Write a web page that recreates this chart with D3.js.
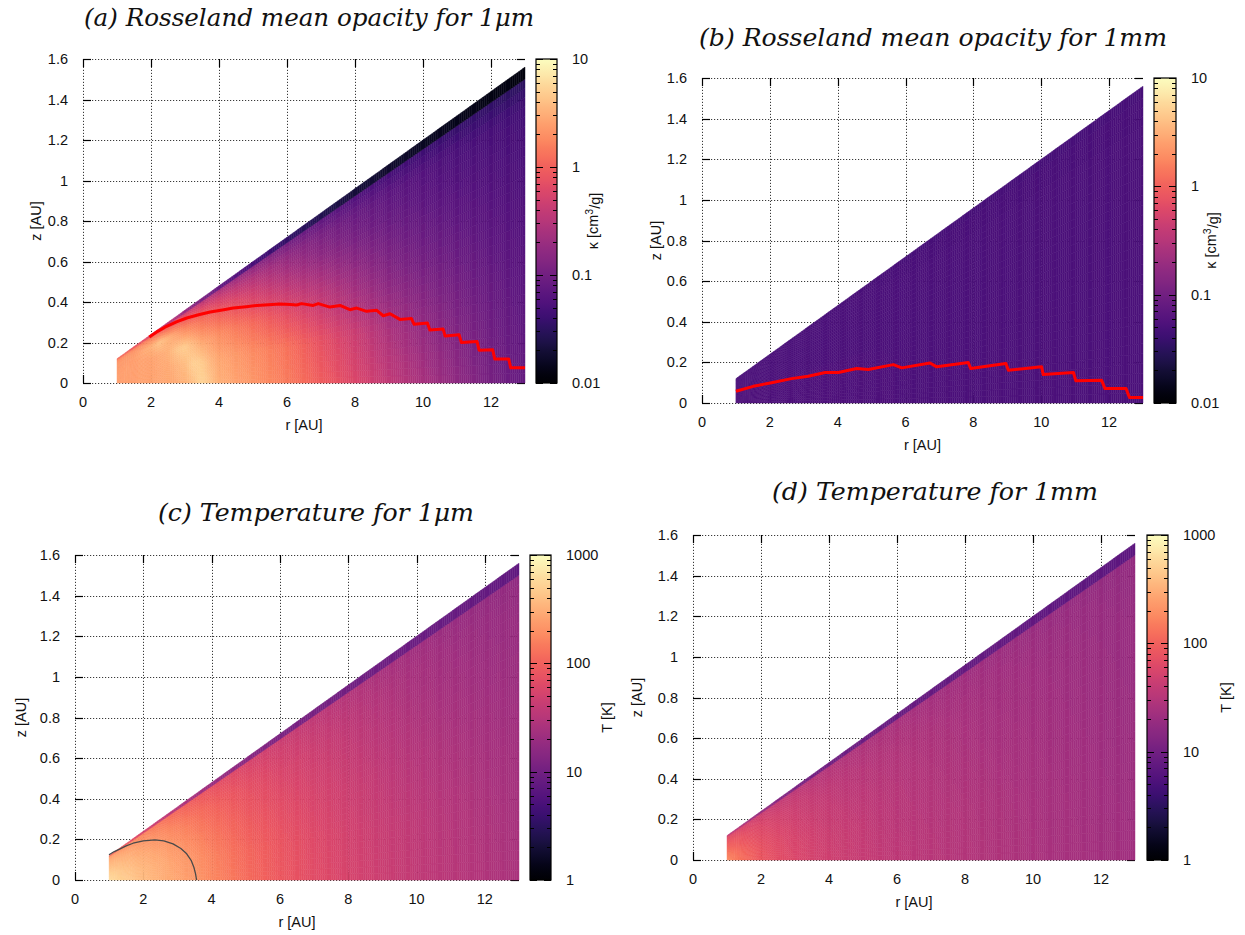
<!DOCTYPE html>
<html><head><meta charset="utf-8">
<script src="https://cdn.jsdelivr.net/npm/d3@7/dist/d3.min.js"></script>
<style>body{margin:0;background:#fff}</style>
</head><body>
<svg id="chart" width="1245" height="935" xmlns="http://www.w3.org/2000/svg"></svg>
<script>
// ---------------- data ----------------
const rNodes = [1, 1.5, 2, 2.25, 2.5, 2.75, 3, 3.25, 3.5, 3.75, 4, 4.5, 5, 6, 7, 8, 9, 10, 11, 12, 13]; // r [AU]
const hNodes = [0, 0.03, 0.06, 0.09, 0.105, 0.1155, 0.1155, 0.12];                                    // z / r
const xTicks = [0, 2, 4, 6, 8, 10, 12];
const yTicks = [0, 0.2, 0.4, 0.6, 0.8, 1, 1.2, 1.4, 1.6];
const kappaTicks = [0.01, 0.1, 1, 10];
const tempTicks = [1, 10, 100, 1000];
const titles = ["(a) Rosseland mean opacity for 1μm", "(b) Rosseland mean opacity for 1mm",
                "(c) Temperature for 1μm", "(d) Temperature for 1mm"];

// Rosseland mean opacity, 1 micron [cm^2/g]; rows = hNodes, columns = rNodes
const kappa1um = [
  [2.5, 2.5, 2.6, 2.7, 2.8, 3.0, 3.3, 4.0, 5.5, 4.2, 3.2, 2.6, 2.2, 1.5, 0.95, 0.6, 0.38, 0.25, 0.165, 0.11, 0.08],
  [2.5, 2.5, 2.6, 2.7, 2.9, 3.2, 3.8, 5.0, 4.8, 3.4, 2.8, 2.3, 1.9, 1.3, 0.75, 0.45, 0.26, 0.17, 0.12, 0.09, 0.07],
  [2.4, 2.5, 2.6, 2.8, 3.2, 4.2, 5.0, 3.6, 2.7, 2.3, 2.0, 1.5, 1.15, 0.65, 0.38, 0.22, 0.14, 0.105, 0.085, 0.07, 0.06],
  [2.3, 2.4, 3.2, 4.2, 3.4, 2.4, 1.8, 1.5, 1.25, 1.05, 0.9, 0.65, 0.48, 0.26, 0.16, 0.11, 0.085, 0.07, 0.06, 0.055, 0.05],
  [2.1, 2.2, 2.1, 1.7, 1.4, 1.15, 0.95, 0.8, 0.65, 0.56, 0.48, 0.36, 0.28, 0.17, 0.115, 0.085, 0.07, 0.06, 0.052, 0.048, 0.045],
  [1.7, 1.5, 1.1, 0.9, 0.75, 0.6, 0.48, 0.4, 0.34, 0.29, 0.25, 0.19, 0.15, 0.10, 0.072, 0.056, 0.046, 0.04, 0.036, 0.033, 0.03],
  [1.2, 0.9, 0.6, 0.45, 0.35, 0.27, 0.2, 0.15, 0.12, 0.1, 0.08, 0.062, 0.05, 0.035, 0.027, 0.021, 0.018, 0.016, 0.014, 0.013, 0.012],
  [1.2, 0.9, 0.6, 0.45, 0.35, 0.27, 0.2, 0.15, 0.12, 0.1, 0.08, 0.062, 0.05, 0.035, 0.027, 0.021, 0.018, 0.016, 0.014, 0.013, 0.012]
];
// Rosseland mean opacity, 1 mm
const kappa1mm = [
  [0.054, 0.054, 0.054, 0.054, 0.054, 0.054, 0.054, 0.054, 0.054, 0.054, 0.054, 0.054, 0.054, 0.053, 0.053, 0.053, 0.053, 0.053, 0.053, 0.053, 0.053],
  [0.054, 0.054, 0.054, 0.054, 0.054, 0.054, 0.054, 0.054, 0.054, 0.054, 0.054, 0.054, 0.054, 0.053, 0.053, 0.053, 0.053, 0.053, 0.053, 0.053, 0.053],
  [0.053, 0.053, 0.053, 0.053, 0.053, 0.053, 0.053, 0.053, 0.053, 0.053, 0.053, 0.053, 0.053, 0.053, 0.053, 0.053, 0.053, 0.053, 0.053, 0.053, 0.053],
  [0.053, 0.053, 0.053, 0.053, 0.053, 0.053, 0.053, 0.053, 0.053, 0.053, 0.053, 0.053, 0.053, 0.052, 0.052, 0.052, 0.052, 0.052, 0.052, 0.052, 0.052],
  [0.052, 0.052, 0.052, 0.052, 0.052, 0.052, 0.052, 0.052, 0.052, 0.052, 0.052, 0.052, 0.052, 0.052, 0.052, 0.052, 0.052, 0.052, 0.052, 0.052, 0.052],
  [0.052, 0.052, 0.052, 0.052, 0.052, 0.052, 0.052, 0.052, 0.052, 0.052, 0.052, 0.052, 0.052, 0.051, 0.051, 0.051, 0.051, 0.051, 0.051, 0.051, 0.051],
  [0.050, 0.050, 0.050, 0.050, 0.050, 0.050, 0.050, 0.050, 0.050, 0.050, 0.050, 0.050, 0.050, 0.049, 0.049, 0.049, 0.049, 0.049, 0.049, 0.049, 0.049],
  [0.050, 0.050, 0.050, 0.050, 0.050, 0.050, 0.050, 0.050, 0.050, 0.050, 0.050, 0.050, 0.050, 0.049, 0.049, 0.049, 0.049, 0.049, 0.049, 0.049, 0.049]
];
// Temperature, 1 micron [K]
const temp1um = [
  [600, 480, 380, 350, 320, 295, 270, 250, 230, 205, 180, 148, 120, 88, 68, 55, 45, 38, 33, 29, 26],
  [520, 430, 350, 325, 300, 275, 250, 230, 210, 188, 165, 135, 110, 82, 63, 51, 42, 36, 31, 27, 24],
  [420, 360, 300, 278, 255, 232, 210, 190, 170, 152, 135, 112, 92, 70, 55, 45, 37, 31, 27, 24, 22],
  [330, 290, 240, 217, 195, 177, 160, 145, 130, 117, 105, 89, 75, 57, 46, 38, 31, 26, 23, 21, 19.5],
  [280, 240, 195, 177, 160, 145, 130, 117, 105, 96, 88, 75, 64, 50, 41, 34, 28, 24, 21.5, 19.5, 18.5],
  [240, 200, 160, 145, 130, 117, 105, 96, 88, 81, 74, 64, 55, 44, 36, 30, 25, 22, 19.5, 18, 17],
  [120, 80, 55, 47, 40, 35, 30, 27, 24, 22, 20, 17.5, 15, 12, 11, 10, 9.5, 9, 8.5, 8, 7.5],
  [120, 80, 55, 47, 40, 35, 30, 27, 24, 22, 20, 17.5, 15, 12, 11, 10, 9.5, 9, 8.5, 8, 7.5]
];
// Temperature, 1 mm [K]
const temp1mm = [
  [190, 120, 85, 77, 70, 65, 60, 56, 53, 50, 48, 44, 41, 36, 33, 30, 28, 26, 24.5, 23, 22],
  [150, 105, 78, 71, 65, 60, 56, 53, 50, 47, 45, 42, 39, 34, 31, 29, 27, 25, 23.5, 22, 21],
  [110, 85, 68, 63, 58, 54, 50, 47, 45, 43, 41, 38, 36, 32, 29, 27, 25, 23.5, 22, 21, 20],
  [85, 70, 58, 54, 50, 47, 44, 42, 40, 38, 37, 34, 32, 29, 27, 25, 23, 22, 21, 20, 19],
  [72, 60, 50, 47, 44, 42, 40, 38, 36, 34, 33, 31, 29, 27, 25, 23, 22, 21, 20, 19, 18],
  [62, 52, 44, 41, 39, 37, 35, 33, 32, 31, 30, 28, 27, 25, 23, 21.5, 20.5, 19.5, 18.5, 18, 17.5],
  [40, 26, 18, 16, 14, 13, 12, 11, 10.5, 10.2, 10, 9.5, 9, 8.5, 8.2, 8, 7.8, 7.6, 7.4, 7.2, 7],
  [40, 26, 18, 16, 14, 13, 12, 11, 10.5, 10.2, 10, 9.5, 9, 8.5, 8.2, 8, 7.8, 7.6, 7.4, 7.2, 7]
];
// red surface line, 1 micron
const surf1um_r = [1.95, 2.2, 2.46, 2.75, 3.05, 3.4, 3.74, 4.1, 4.42, 4.8, 5.11, 5.45, 5.79, 6.1, 6.28, 6.43, 6.77, 6.92, 7.26, 7.56, 7.85, 8.05, 8.34, 8.64, 8.83, 9.03, 9.32, 9.66, 9.74, 10.13, 10.2, 10.59, 10.65, 11.06, 11.13, 11.59, 11.65, 12.05, 12.11, 12.52, 12.58, 13.0];
const surf1um_z = [0.227, 0.255, 0.28, 0.302, 0.321, 0.337, 0.351, 0.361, 0.37, 0.377, 0.383, 0.387, 0.39, 0.388, 0.385, 0.392, 0.383, 0.392, 0.375, 0.383, 0.362, 0.37, 0.354, 0.359, 0.332, 0.342, 0.314, 0.318, 0.29, 0.296, 0.262, 0.267, 0.232, 0.238, 0.2, 0.205, 0.162, 0.164, 0.119, 0.119, 0.075, 0.075];
// red surface line, 1 mm
const surf1mm_r = [1.0, 1.51, 2.05, 2.64, 3.13, 3.63, 4.02, 4.56, 4.9, 5.64, 5.89, 6.72, 6.92, 7.85, 7.92, 8.96, 9.03, 10.01, 10.06, 10.95, 11.02, 11.78, 11.88, 12.5, 12.6, 13.0];
const surf1mm_z = [0.058, 0.082, 0.1, 0.12, 0.132, 0.15, 0.15, 0.17, 0.165, 0.189, 0.173, 0.197, 0.178, 0.199, 0.17, 0.194, 0.161, 0.178, 0.14, 0.15, 0.109, 0.112, 0.071, 0.071, 0.027, 0.027];
// grey contour in panel (c)
const contour1um_r = [0.995, 1.15, 1.32, 1.5, 1.7, 2.0, 2.34, 2.6, 2.87, 3.1, 3.27, 3.4, 3.48, 3.53, 3.56];
const contour1um_z = [0.124, 0.14, 0.153, 0.168, 0.181, 0.193, 0.198, 0.193, 0.178, 0.155, 0.129, 0.097, 0.063, 0.03, 0.0];

// ---------------- layout ----------------
const panels = [
  {grid: kappa1um, title: titles[0], px: [83, 525], py: [383, 59], cbx: [536, 557], tx: 309, ty: 18, tw: 450,
   cbDomain: [0.01, 10], cbTicks: kappaTicks, cbLabel: "kappa", labX: 593, zLabX: 36,
   line: {r: surf1um_r, z: surf1um_z, color: "#ff0000", width: 3}},
  {grid: kappa1mm, title: titles[1], px: [702, 1143], py: [403, 78], cbx: [1154, 1176], tx: 933, ty: 38, tw: 468,
   cbDomain: [0.01, 10], cbTicks: kappaTicks, cbLabel: "kappa", labX: 1211, zLabX: 656,
   line: {r: surf1mm_r, z: surf1mm_z, color: "#ff0000", width: 3}},
  {grid: temp1um, title: titles[2], px: [75, 519], py: [880, 555], cbx: [530, 551], tx: 316, ty: 513, tw: 316,
   cbDomain: [1, 1000], cbTicks: tempTicks, cbLabel: "T [K]", labX: 607, zLabX: 21,
   line: {r: contour1um_r, z: contour1um_z, color: "#4a4a4a", width: 1.3}},
  {grid: temp1mm, title: titles[3], px: [693, 1135], py: [860, 535], cbx: [1147, 1168], tx: 935, ty: 492, tw: 326,
   cbDomain: [1, 1000], cbTicks: tempTicks, cbLabel: "T [K]", labX: 1226, zLabX: 637, line: null}
];

const svg = d3.select("#chart");
const defs = svg.append("defs");
const FONT = "'Liberation Sans', Arial, sans-serif";
const FS = 14.5;

panels.forEach((p, pi) => {
  const x = d3.scaleLinear().domain([0, 13]).range(p.px);
  const y = d3.scaleLinear().domain([0, 1.6]).range(p.py);
  const cnorm = d3.scaleLog().domain(p.cbDomain).range([0, 1]).clamp(true);
  const color = v => d3.interpolateMagma(cnorm(v));
  const g = svg.append("g");

  // grid (dotted) and ticks, behind the map
  const grid = g.append("g").attr("stroke", "#3a3a3a").attr("stroke-width", 1).attr("stroke-dasharray", "1.2,1.8");
  xTicks.forEach(v => grid.append("line").attr("x1", Math.round(x(v)) + 0.5).attr("x2", Math.round(x(v)) + 0.5)
    .attr("y1", y(0)).attr("y2", y(1.6)));
  yTicks.forEach(v => grid.append("line").attr("y1", Math.round(y(v)) + 0.5).attr("y2", Math.round(y(v)) + 0.5)
    .attr("x1", x(0)).attr("x2", x(13)));
  const tk = g.append("g").attr("stroke", "#000").attr("stroke-width", 1.2);
  xTicks.forEach(v => {
    const xx = Math.round(x(v)) + 0.5;
    tk.append("line").attr("x1", xx).attr("x2", xx).attr("y1", y(0)).attr("y2", y(0) - 8);
    tk.append("line").attr("x1", xx).attr("x2", xx).attr("y1", y(1.6)).attr("y2", y(1.6) + 8);
  });
  yTicks.forEach(v => {
    const yy = Math.round(y(v)) + 0.5;
    tk.append("line").attr("y1", yy).attr("y2", yy).attr("x1", x(0)).attr("x2", x(0) + 8);
    tk.append("line").attr("y1", yy).attr("y2", yy).attr("x1", x(13)).attr("x2", x(13) - 8);
  });

  // heat map cells built from the node grid (log-bilinear shading inside each node cell)
  const L = p.grid.map(row => row.map(v => Math.log(v)));
  const cells = [];
  for (let j = 0; j < hNodes.length - 1; j++) {
    const h0 = hNodes[j], h1 = hNodes[j + 1];
    if (h1 <= h0) continue;
    const nh = Math.max(1, Math.round((h1 - h0) / 0.004));
    for (let i = 0; i < rNodes.length - 1; i++) {
      const r0 = rNodes[i], r1 = rNodes[i + 1];
      const nr = Math.max(1, Math.round((r1 - r0) / 0.0625));
      for (let a = 0; a < nr; a++) {
        for (let b = 0; b < nh; b++) {
          const u0 = a / nr, u1 = (a + 1) / nr, v0 = b / nh, v1 = (b + 1) / nh;
          const uc = (u0 + u1) / 2, vc = (v0 + v1) / 2;
          const lv = (1 - uc) * (1 - vc) * L[j][i] + uc * (1 - vc) * L[j][i + 1]
                   + (1 - uc) * vc * L[j + 1][i] + uc * vc * L[j + 1][i + 1];
          cells.push({ra: r0 + (r1 - r0) * u0, rb: r0 + (r1 - r0) * u1,
                      ha: h0 + (h1 - h0) * v0, hb: h0 + (h1 - h0) * v1, val: Math.exp(lv)});
        }
      }
    }
  }
  g.append("g").selectAll("path").data(cells).join("path")
    .attr("d", c => `M${x(c.ra)},${y(c.ra * c.ha)}L${x(c.rb)},${y(c.rb * c.ha)}L${x(c.rb)},${y(c.rb * c.hb)}L${x(c.ra)},${y(c.ra * c.hb)}Z`)
    .attr("fill", c => color(c.val))
    .attr("stroke", c => color(c.val))
    .attr("stroke-width", 0.45);

  // overlay line
  if (p.line) {
    const pts = p.line.r.map((r, k) => [r, p.line.z[k]]);
    g.append("path").datum(pts)
      .attr("d", d3.line().x(d => x(d[0])).y(d => y(d[1])))
      .attr("fill", "none").attr("stroke", p.line.color).attr("stroke-width", p.line.width)
      .attr("stroke-linejoin", "round");
  }

  // tick labels
  const lab = g.append("g").attr("font-family", FONT).attr("font-size", FS).attr("fill", "#111");
  xTicks.forEach(v => lab.append("text").attr("x", x(v)).attr("y", y(0) + 19).attr("dy", "0.35em")
    .attr("text-anchor", "middle").text(v));
  yTicks.forEach(v => lab.append("text").attr("x", x(0) - 15).attr("y", y(v)).attr("dy", "0.35em")
    .attr("text-anchor", "end").text(String(+v.toFixed(1))));
  lab.append("text").attr("x", (p.px[0] + p.px[1]) / 2).attr("y", y(0) + 42).attr("dy", "0.35em")
    .attr("text-anchor", "middle").text("r [AU]");
  lab.append("text").attr("transform", `translate(${p.zLabX},${(p.py[0] + p.py[1]) / 2}) rotate(-90)`)
    .attr("dy", "0.35em").attr("text-anchor", "middle").text("z [AU]");

  // colour bar
  const gid = "grad" + pi;
  const grad = defs.append("linearGradient").attr("id", gid).attr("x1", 0).attr("y1", 1).attr("x2", 0).attr("y2", 0);
  d3.range(0, 1.0001, 0.025).forEach(t => grad.append("stop").attr("offset", t).attr("stop-color", d3.interpolateMagma(t)));
  const cy = d3.scaleLog().domain(p.cbDomain).range(p.py);
  g.append("rect").attr("x", p.cbx[0]).attr("y", p.py[1]).attr("width", p.cbx[1] - p.cbx[0])
    .attr("height", p.py[0] - p.py[1]).attr("fill", `url(#${gid})`);
  const ctk = g.append("g").attr("stroke", "#000").attr("stroke-width", 1);
  const d0 = Math.round(Math.log10(p.cbDomain[0])), d1 = Math.round(Math.log10(p.cbDomain[1]));
  for (let d = d0; d <= d1; d++) {
    for (let m = 1; m <= 9; m++) {
      const v = m * Math.pow(10, d);
      if (v > p.cbDomain[1] * 1.0001) break;
      const yy = Math.round(cy(v)) + 0.5;
      const len = m === 1 ? 7 : 4;
      ctk.append("line").attr("x1", p.cbx[0]).attr("x2", p.cbx[0] + len).attr("y1", yy).attr("y2", yy);
      ctk.append("line").attr("x1", p.cbx[1]).attr("x2", p.cbx[1] - len).attr("y1", yy).attr("y2", yy);
    }
  }
  g.append("rect").attr("x", p.cbx[0]).attr("y", p.py[1]).attr("width", p.cbx[1] - p.cbx[0])
    .attr("height", p.py[0] - p.py[1]).attr("fill", "none").attr("stroke", "#000").attr("stroke-width", 1.2);
  p.cbTicks.forEach(v => lab.append("text").attr("x", p.cbx[1] + 15).attr("y", cy(v)).attr("dy", "0.35em")
    .attr("text-anchor", "start").text(String(v)));
  const cl = lab.append("text").attr("transform", `translate(${p.labX},${(p.py[0] + p.py[1]) / 2}) rotate(-90)`)
    .attr("dy", "0.35em").attr("text-anchor", "middle");
  if (p.cbLabel === "kappa") {
    cl.append("tspan").text("κ [cm");
    cl.append("tspan").attr("dy", "-0.45em").attr("font-size", FS * 0.72).text("3");
    cl.append("tspan").attr("dy", "0.45em").text("/g]");
  } else {
    cl.text(p.cbLabel);
  }

  // title
  g.append("text").attr("x", p.tx).attr("y", p.ty + 8).attr("text-anchor", "middle")
    .attr("font-family", "'DejaVu Serif', 'Liberation Serif', serif").attr("font-style", "italic")
    .attr("font-size", 24).attr("fill", "#111")
    .attr("textLength", p.tw).attr("lengthAdjust", "spacingAndGlyphs").text(p.title);
});
</script>
</body></html>
